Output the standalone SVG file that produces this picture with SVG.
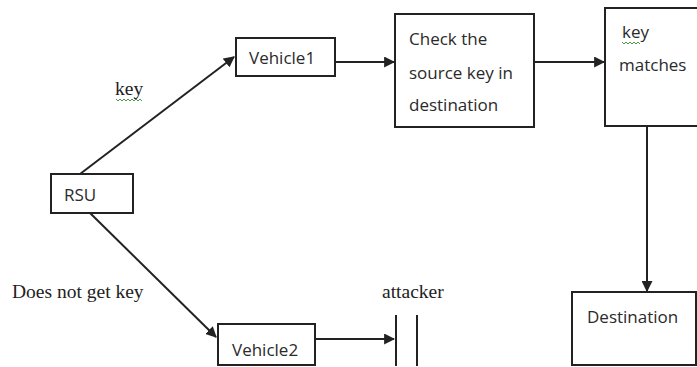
<svg xmlns="http://www.w3.org/2000/svg" width="697" height="367" viewBox="0 0 697 367">
<style>
.box{fill:#fff;stroke:#222;stroke-width:2}
.lbl{font-family:"Open Sans","Liberation Sans",sans-serif;font-size:17px;fill:#2a2a2a}
.tm{font-family:"Liberation Serif",serif;font-size:19.5px;fill:#222}
.con{stroke:#222;stroke-width:2;fill:none}
.sq{stroke:#4a9a4a;stroke-width:1;fill:none}
</style>
<defs>
<marker id="ah" viewBox="0 0 10 10" refX="9" refY="5" markerWidth="5.5" markerHeight="5.5" orient="auto" markerUnits="strokeWidth">
<path d="M0,0 L10,5 L0,10 z" fill="#222"/>
</marker>
</defs>
<rect width="697" height="367" fill="#fff"/>
<g id="connectors">
<line class="con" x1="80" y1="174" x2="234" y2="57" marker-end="url(#ah)"/>
<line class="con" x1="90" y1="213" x2="216" y2="337" marker-end="url(#ah)"/>
<line class="con" x1="335" y1="62" x2="394" y2="62" marker-end="url(#ah)"/>
<line class="con" x1="534" y1="62" x2="604" y2="62" marker-end="url(#ah)"/>
<line class="con" x1="647" y1="126" x2="647" y2="291" marker-end="url(#ah)"/>
<line class="con" x1="315" y1="339" x2="394" y2="339" marker-end="url(#ah)"/>
</g>
<g id="key-label">
<text class="tm" x="115" y="95">key</text>
<path class="sq" d="M116,99 l2,2 l2,-2 l2,2 l2,-2 l2,2 l2,-2 l2,2 l2,-2 l2,2 l2,-2 l2,2 l2,-2 l2,2"/>
</g>
<g id="nogetkey-label">
<text class="tm" x="12" y="298">Does not get key</text>
</g>
<g id="rsu">
<rect class="box" x="51" y="174" width="82" height="39"/>
<text class="lbl" x="64" y="201">RSU</text>
</g>
<g id="vehicle1">
<rect class="box" x="236" y="38" width="99" height="38"/>
<text class="lbl" x="249" y="64">Vehicle1</text>
</g>
<g id="check">
<rect class="box" x="395" y="14" width="139" height="113"/>
<text class="lbl" x="409" y="45">Check the</text>
<text class="lbl" x="409" y="79">source key in</text>
<text class="lbl" x="409" y="111">destination</text>
</g>
<g id="keymatches">
<rect class="box" x="605" y="8" width="94" height="118"/>
<text class="lbl" x="622" y="38">key</text>
<path class="sq" d="M622,42 l2,2 l2,-2 l2,2 l2,-2 l2,2 l2,-2 l2,2 l2,-2 l2,2"/>
<text class="lbl" x="619" y="71">matches</text>
</g>
<g id="destination">
<rect class="box" x="572" y="292" width="124" height="73"/>
<text class="lbl" x="587" y="323">Destination</text>
</g>
<g id="vehicle2">
<rect class="box" x="218" y="324" width="97" height="41"/>
<text class="lbl" x="232" y="356">Vehicle2</text>
</g>
<g id="attacker">
<text class="tm" x="382" y="298">attacker</text>
<line class="con" x1="396" y1="315" x2="396" y2="366"/>
<line class="con" x1="417" y1="315" x2="417" y2="366"/>
</g>
</svg>
